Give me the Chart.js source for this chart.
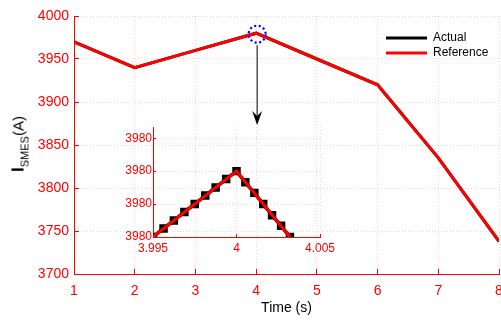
<!DOCTYPE html>
<html>
<head>
<meta charset="utf-8">
<script src="https://cdn.jsdelivr.net/npm/chart.js@4.4.0/dist/chart.umd.min.js"></script>
<style>
  body { margin: 0; background: #fff; }
  #wrap { position: relative; width: 501px; height: 320px; font-family: "Liberation Sans", Arial, sans-serif; }
  #main { position: absolute; left: 0; top: 0; }
  #inset { position: absolute; left: 100px; top: 117px; }
  #ylab { position: absolute; left: 18px; top: 144px; transform: translate(-50%, -50%) rotate(-90deg);
          white-space: nowrap; font-size: 15px; line-height: 1; color: #000; }
  #ylab b { font-size: 17px; }
  #ylab sub { font-size: 11px; vertical-align: -5px; line-height: 0; }
</style>
</head>
<body>
<div id="wrap">
  <canvas id="main" width="501" height="320"></canvas>
  <canvas id="inset" width="250" height="140"></canvas>
  <div id="ylab"><b>I</b><sub>SMES</sub>(A)</div>
</div>
<script>
// main plot, current vs time
const timeS = [1, 2, 3, 4, 5, 6, 7, 8];
const actualA = [3970, 3940, 3960, 3980, 3950, 3920, 3835, 3738];
const referenceA = [3970, 3940, 3960, 3980, 3950, 3920, 3835, 3738];

// zoomed view around t = 4 s
const zoomActualT = [3.995, 3.99563, 3.99625, 3.99688, 3.9975, 3.99813, 3.99875, 3.99938, 4.0,
                     4.00053, 4.00107, 4.0016, 4.00213, 4.00267, 4.0032];
const zoomActualA = [3979.99, 3979.9913, 3979.9925, 3979.9938, 3979.995, 3979.9963, 3979.9975, 3979.9988, 3980.0,
                     3979.9983, 3979.9967, 3979.995, 3979.9933, 3979.9917, 3979.99];
const zoomRefT = [3.995, 4.0, 4.0032];
const zoomRefA = [3979.99, 3980.0, 3979.99];

const zoomCentre = [4, 3980];
const INSET_TOP = 127;

const RED = '#ff0000';
const GRID = 'rgba(255, 0, 0, 0.18)';

Chart.defaults.font.family = '"Liberation Sans", Arial, sans-serif';
Chart.defaults.color = RED;

const pts = (xs, ys) => xs.map((v, i) => ({x: v, y: ys[i]}));

const legendPlacer = {
    id: 'legendPlacer',
    afterLayout(chart) {
        const lg = chart.legend;
        const w = lg.width, h = lg.height;
        lg.left = chart.chartArea.right - 116;
        lg.top = chart.chartArea.top + 13;
        lg.right = lg.left + w;
        lg.bottom = lg.top + h;
    }
};

const callout = {
    id: 'callout',
    afterDraw(chart) {
        const {ctx, scales: {x, y}} = chart;
        const cx = x.getPixelForValue(zoomCentre[0]) + 1;
        const cy = y.getPixelForValue(zoomCentre[1]) + 1;
        ctx.save();
        ctx.strokeStyle = '#0000ff';
        ctx.lineWidth = 2.2;
        ctx.setLineDash([2, 2.6]);
        ctx.beginPath();
        ctx.ellipse(cx, cy, 8.5, 8.5, 0, 0, 2 * Math.PI);
        ctx.stroke();
        ctx.setLineDash([]);
        ctx.strokeStyle = '#000';
        ctx.lineWidth = 1;
        const tip = INSET_TOP - 2;
        ctx.beginPath();
        ctx.moveTo(cx, cy + 11);
        ctx.lineTo(cx, tip - 8);
        ctx.stroke();
        ctx.fillStyle = '#000';
        ctx.beginPath();
        ctx.moveTo(cx, tip);
        ctx.lineTo(cx - 5, tip - 14);
        ctx.lineTo(cx, tip - 9);
        ctx.lineTo(cx + 5, tip - 14);
        ctx.closePath();
        ctx.fill();
        ctx.restore();
    }
};

const zeroPad = s => { s.paddingLeft = 0; s.paddingRight = 0; s.paddingTop = 0; s.paddingBottom = 0; };

const config = {
    type: 'line',
    data: {
        datasets: [
            {
                label: 'Actual',
                data: pts(timeS, actualA),
                borderColor: '#000000',
                backgroundColor: '#000000',
                borderWidth: 3,
                pointRadius: 0,
                order: 1,
            },
            {
                label: 'Reference',
                data: pts(timeS, referenceA),
                borderColor: RED,
                backgroundColor: RED,
                borderWidth: 3,
                pointRadius: 0,
                order: 0,
            }
        ]
    },
    options: {
        responsive: false,
        animation: false,
        layout: { padding: { top: 16, right: 2, left: 0, bottom: 0 } },
        plugins: {
            legend: {
                position: 'chartArea',
                align: 'start',
                labels: {
                    color: '#000',
                    font: { size: 12 },
                    usePointStyle: true,
                    pointStyle: 'line',
                    pointStyleWidth: 41,
                    boxHeight: 12,
                    padding: 3,
                    sort: (a, b) => a.datasetIndex - b.datasetIndex,
                }
            },
            tooltip: { enabled: false },
        },
        scales: {
            x: {
                type: 'linear',
                min: 1,
                max: 8,
                ticks: { stepSize: 1, padding: 14, color: RED, font: { size: 14 },
                         callback: v => String(v) },
                grid: { color: GRID, tickColor: RED, tickLength: -5 },
                border: { color: RED, width: 1, dash: [1, 2] },
                title: { display: true, text: 'Time (s)', color: '#000', font: { size: 14 }, padding: { top: 0, bottom: 3 } },
                afterFit: s => { s.height = 46; zeroPad(s); },
            },
            y: {
                min: 3700,
                max: 4000,
                ticks: { stepSize: 50, padding: 10, color: RED, font: { size: 14 },
                         callback: v => String(v) },
                grid: { color: GRID, tickColor: RED, tickLength: -5 },
                border: { color: RED, width: 1, dash: [1, 2] },
                afterFit: s => { s.width = 74; zeroPad(s); },
            }
        }
    },
    plugins: [legendPlacer, callout]
};

const insetConfig = {
    type: 'line',
    data: {
        datasets: [
            {
                label: 'Actual',
                data: pts(zoomActualT, zoomActualA),
                borderColor: '#000000',
                backgroundColor: '#000000',
                borderWidth: 3.5,
                pointStyle: 'rect',
                pointRadius: 3.5,
                order: 1,
            },
            {
                label: 'Reference',
                data: pts(zoomRefT, zoomRefA),
                borderColor: RED,
                backgroundColor: RED,
                borderWidth: 3,
                pointRadius: 0,
                order: 0,
            }
        ]
    },
    options: {
        responsive: false,
        animation: false,
        layout: { padding: { top: 10, right: 30, left: 0, bottom: 0 } },
        plugins: { legend: { display: false }, tooltip: { enabled: false } },
        scales: {
            x: {
                type: 'linear',
                min: 3.995,
                max: 4.005,
                ticks: { stepSize: 0.005, padding: 7, color: RED, font: { size: 12 },
                         callback: v => String(Number(v.toFixed(4))) },
                grid: { color: GRID, tickColor: RED, tickLength: -3 },
                border: { color: RED, width: 1, dash: [1, 2] },
                afterFit: s => { s.height = 20; zeroPad(s); },
            },
            y: {
                min: 3979.99,
                max: 3980.0067,
                ticks: { stepSize: 0.005, padding: 4, includeBounds: false, color: RED, font: { size: 12 },
                         callback: v => String(Math.round(v)) },
                grid: { color: GRID, tickColor: RED, tickLength: -3 },
                border: { color: RED, width: 1, dash: [1, 2] },
                afterFit: s => { s.width = 53; zeroPad(s); },
            }
        }
    }
};

/*eslint-disable no-unused-vars*/
const mainChart = new Chart(document.getElementById('main'), config);
const insetChart = new Chart(document.getElementById('inset'), insetConfig);
</script>
</body>
</html>
